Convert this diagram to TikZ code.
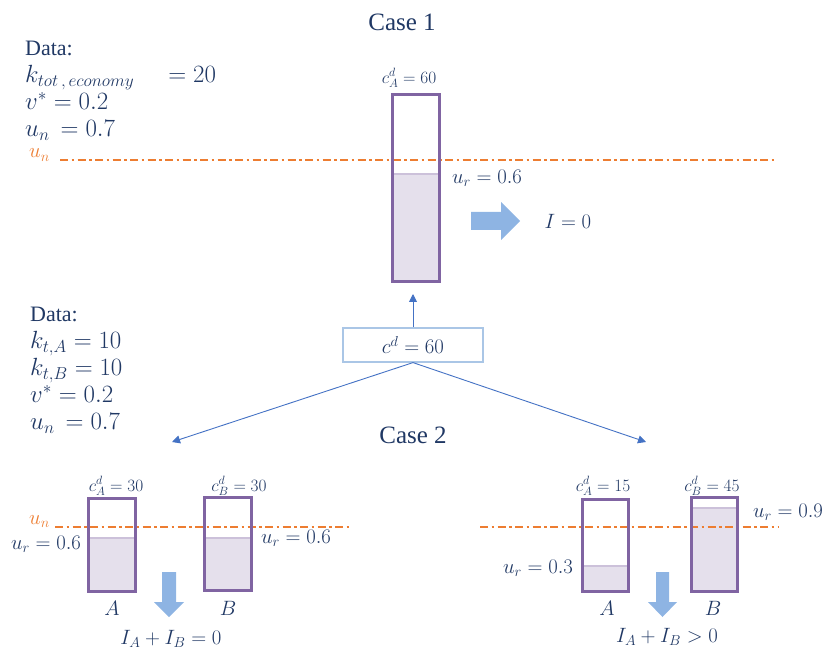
\documentclass[tikz,border=0pt]{standalone}
\usepackage[no-math]{fontspec}
\setmainfont{Liberation Serif}
\usetikzlibrary{arrows.meta}
\definecolor{navy}{RGB}{32,56,100}
\definecolor{orng}{RGB}{237,125,49}
\definecolor{purp}{RGB}{128,100,162}
\definecolor{lav}{RGB}{229,224,236}
\definecolor{lavline}{RGB}{204,193,218}
\definecolor{abl}{RGB}{142,180,227}
\definecolor{cblue}{RGB}{68,114,196}
\definecolor{boxb}{RGB}{170,198,230}
\begin{document}
\lineskiplimit=-30pt
\begin{tikzpicture}[x=1pt,y=-1pt,
  datablk/.style={text=navy, inner sep=0pt, align=left, anchor=north west,
    font=\fontsize{23}{27}\selectfont},
  lbl/.style={text=navy, inner sep=0pt, font=\fontsize{20.5}{24}\selectfont},
  small/.style={text=navy, inner sep=0pt, font=\fontsize{18}{21}\selectfont},
  title/.style={text=navy, inner sep=0pt, font=\fontsize{25}{30}\selectfont},
  unlbl/.style={text=orng, inner sep=0pt, font=\fontsize{21}{24}\selectfont},
  tank/.style={draw=purp, line width=3pt, inner sep=0pt},
  unline/.style={draw=orng, line width=1.6pt, dash pattern=on 8pt off 3.5pt on 2.5pt off 3.5pt},
  conn/.style={draw=cblue, line width=0.9pt, -{Triangle[width=8pt,length=8pt]}},
  lev/.style={fill=lav},
  levtop/.style={draw=lavline, line width=1.5pt},
  blk/.style={fill=abl}]
\useasboundingbox (0,0) rectangle (825,652);

% ---------- Case 1 ----------
\node[title] (case1) at (402,22) {Case 1};
\node[datablk] (data1) at (25,41) {{\fontsize{22}{27}\selectfont Data:}\\
  $k_{tot\,,\,economy}\quad\, = 20$\\
  $v^{*} = 0.2$\\
  $u_{n}\, = 0.7$};
\node[unlbl, anchor=base west] (un1) at (29,158) {$u_{n}$};

\fill[lev] (392,174) rectangle (439,282);
\draw[levtop] (392,174) -- (439,174);
\draw[unline] (60,160) -- (775,160);
\node[tank, minimum width=47pt, minimum height=187pt] (bar1) at (415.5,188.5) {};
\node[small] (c1) at (409,78) {$c_{A}^{d} = 60$};
\node[lbl] (ur1) at (487,178) {$u_{r} = 0.6$};
\fill[blk] (471,212) -- (501,212) -- (501,202) -- (520,221) -- (501,240) -- (501,230) -- (471,230) -- cycle;
\node[lbl] (i1) at (568,221) {$I = 0$};

% ---------- central box ----------
\node[draw=boxb, line width=1.2pt, minimum width=140pt, minimum height=34pt, inner sep=0pt, text=navy, font=\fontsize{22.5}{26}\selectfont] (cd) at (413,345) {$c^{d} = 60$};
\coordinate (up) at (413,294);
\coordinate (lt) at (172,442);
\coordinate (rt) at (646,442);
\draw[conn] (cd.north) -- (up);
\draw[conn] (cd.south) -- (lt);
\draw[conn] (cd.south) -- (rt);

% ---------- Case 2 ----------
\node[title] (case2) at (413,435) {Case 2};
\node[datablk] (data2) at (30,307) {{\fontsize{22}{27}\selectfont Data:}\\
  $k_{t,A} = 10$\\
  $k_{t,B} = 10$\\
  $v^{*} = 0.2$\\
  $u_{n}\, = 0.7$};

% left pair
\fill[lev] (88,538) rectangle (135,591);
\draw[levtop] (88,538) -- (135,538);
\fill[lev] (204,538) rectangle (251,591);
\draw[levtop] (204,538) -- (251,538);
\node[unlbl, anchor=base west] (un2) at (29,524) {$u_{n}$};
\draw[unline] (55,527) -- (350,527);
\node[tank, minimum width=47pt, minimum height=93pt] (barA1) at (111.5,544.5) {};
\node[tank, minimum width=47pt, minimum height=93pt] (barB1) at (227.5,544) {};
\node[small] (cA1) at (116,486) {$c_{A}^{d} = 30$};
\node[small] (cB1) at (239,486) {$c_{B}^{d} = 30$};
\node[lbl] (urA1) at (46,544) {$u_{r} = 0.6$};
\node[lbl] (urB1) at (296,538) {$u_{r} = 0.6$};
\fill[blk] (162,572) -- (176,572) -- (176,602) -- (184,602) -- (169,617) -- (154,602) -- (162,602) -- cycle;
\node[lbl] (A1) at (112,608) {$A$};
\node[lbl] (B1) at (228,608) {$B$};
\node[lbl] (sum1) at (171,639) {$I_{A} + I_{B} = 0$};

% right pair
\fill[lev] (582,566) rectangle (628,591);
\draw[levtop] (582,566) -- (628,566);
\fill[lev] (691,508) rectangle (737,591);
\draw[levtop] (691,508) -- (737,508);
\draw[unline] (480,527) -- (778,527);
\node[tank, minimum width=46pt, minimum height=92pt] (barA2) at (605,545) {};
\node[tank, minimum width=46pt, minimum height=94pt] (barB2) at (714,544) {};
\node[small] (cA2) at (603,486) {$c_{A}^{d} = 15$};
\node[small] (cB2) at (712,486) {$c_{B}^{d} = 45$};
\node[lbl] (urA2) at (538,568) {$u_{r} = 0.3$};
\node[lbl] (urB2) at (788,512) {$u_{r} = 0.9$};
\fill[blk] (656,572) -- (669,572) -- (669,602) -- (677,602) -- (662.5,617) -- (648,602) -- (656,602) -- cycle;
\node[lbl] (A2) at (607,608) {$A$};
\node[lbl] (B2) at (713,608) {$B$};
\node[lbl] (sum2) at (667,637) {$I_{A} + I_{B} > 0$};
\end{tikzpicture}
\end{document}
